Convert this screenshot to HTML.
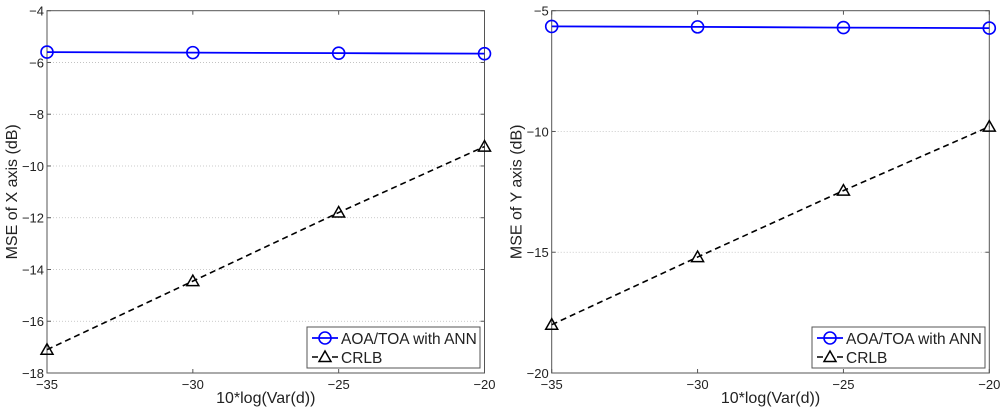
<!DOCTYPE html>
<html><head><meta charset="utf-8"><style>
body{margin:0;background:#fff;}
svg text{font-family:"Liberation Sans",sans-serif;}
</style></head><body>
<svg id="c" width="1000" height="411" xmlns="http://www.w3.org/2000/svg"></svg>
<script>
const xCats=[-35,-30,-25,-20];
const xTickLabels=["\u221235","\u221230","\u221225","\u221220"];
const leftAnn=[-5.6,-5.62,-5.64,-5.66];
const leftCrlb=[-17.1,-14.45,-11.8,-9.25];
const leftYTicks=[-18,-16,-14,-12,-10,-8,-6,-4];
const rightAnn=[-5.65,-5.67,-5.7,-5.72];
const rightCrlb=[-18.0,-15.2,-12.45,-9.8];
const rightYTicks=[-20,-15,-10,-5];
const legendLabels=["AOA/TOA with ANN","CRLB"];

const svg=document.getElementById('c');
const NS="http://www.w3.org/2000/svg";
function mk(tag,attrs,parent){const e=document.createElementNS(NS,tag);for(const k in attrs)e.setAttribute(k,attrs[k]);(parent||svg).appendChild(e);return e;}

function panel(id,x0,x1,y0,y1,ymin,ymax,yTicks,ann,crlb,ylabel,lg){
  const g=mk('g',{});
  
  
  const sx=v=>x0+(v-xCats[0])/(xCats[xCats.length-1]-xCats[0])*(x1-x0);
  const sy=v=>y1-(v-ymin)/(ymax-ymin)*(y1-y0);
  const bg=mk('rect',{x:x0,y:y0,width:x1-x0,height:y1-y0,fill:'#fff',stroke:'none'},g);
  
  yTicks.forEach(t=>{
    const y=sy(t);
    if(t!==ymin&&t!==ymax){const gl=mk('line',{x1:x0,x2:x1,y1:y,y2:y,stroke:'#bbb','stroke-width':0.8,'stroke-dasharray':'1,2'},g);
    }
    mk('line',{x1:x0,x2:x0+4,y1:y,y2:y,stroke:'#555'},g);
    mk('line',{x1:x1,x2:x1-4,y1:y,y2:y,stroke:'#555'},g);
    const tl=mk('text',{x:x0-3,y:y+5,'text-anchor':'end','font-size':13,fill:'#222'},g);
    tl.textContent=String(t).replace('-','\u2212');
    
  });
  xCats.forEach((c,i)=>{
    const x=sx(c);
    mk('line',{x1:x,x2:x,y1:y1,y2:y1-4,stroke:'#555'},g);
    mk('line',{x1:x,x2:x,y1:y0,y2:y0+4,stroke:'#555'},g);
    const tl=mk('text',{x:x,y:y1+16,'text-anchor':'middle','font-size':13,fill:'#222'},g);
    tl.textContent=xTickLabels[i];
    
  });
  const box=mk('rect',{x:x0,y:y0,width:x1-x0,height:y1-y0,fill:'none',stroke:'#555','stroke-width':1},g);
  
  const xl=mk('text',{x:(x0+x1)/2,y:403,'text-anchor':'middle','font-size':16,fill:'#222'},g);
  xl.textContent='10*log(Var(d))';
  
  const yl=mk('text',{x:0,y:0,'text-anchor':'middle','font-size':16,fill:'#222',transform:`translate(${x0-30},${(y0+y1)/2}) rotate(-90)`},g);
  yl.textContent=ylabel;
  
  const pc=mk('polyline',{points:crlb.map((v,i)=>sx(xCats[i])+','+sy(v)).join(' '),fill:'none',stroke:'#000','stroke-width':1.6,'stroke-dasharray':'6,4'},g);
  
  crlb.forEach((v,i)=>{const x=sx(xCats[i]),y=sy(v);
    const m=mk('polygon',{points:`${x},${y-6} ${x-6},${y+4.5} ${x+6},${y+4.5}`,fill:'none',stroke:'#000','stroke-width':1.5},g);
    });
  const pa=mk('polyline',{points:ann.map((v,i)=>sx(xCats[i])+','+sy(v)).join(' '),fill:'none',stroke:'#0000ff','stroke-width':1.8},g);
  
  ann.forEach((v,i)=>{const x=sx(xCats[i]),y=sy(v);
    const m=mk('circle',{cx:x,cy:y,r:6,fill:'none',stroke:'#0000ff','stroke-width':1.6},g);
    });
  const lgG=mk('g',{},g);
  
  mk('rect',{x:lg[0],y:327,width:lg[1]-lg[0],height:41,fill:'#fff',stroke:'#555'},lgG);
  const lx=lg[0];
  mk('line',{x1:lx+5,x2:lx+31,y1:338,y2:338,stroke:'#0000ff','stroke-width':1.8},lgG);
  mk('circle',{cx:lx+18,cy:338,r:6,fill:'none',stroke:'#0000ff','stroke-width':1.6},lgG);
  mk('line',{x1:lx+5,x2:lx+31,y1:357,y2:357,stroke:'#000','stroke-width':1.6,'stroke-dasharray':'6,4'},lgG);
  mk('polygon',{points:`${lx+18},${351} ${lx+12},${361.5} ${lx+24},${361.5}`,fill:'#fff',stroke:'#000','stroke-width':1.5},lgG);
  legendLabels.forEach((t,i)=>{const e=mk('text',{x:lx+34,y:344+i*19,'font-size':15.5,fill:'#222'},lgG);e.textContent=t;
    });
}
panel('left-panel',47,484.5,10.7,373,-18,-4,leftYTicks,leftAnn,leftCrlb,'MSE of X axis (dB)',[307,480]);
panel('right-panel',551.7,989.3,10.7,373,-20,-5,rightYTicks,rightAnn,rightCrlb,'MSE of Y axis (dB)',[812,985]);
</script>
</body></html>
